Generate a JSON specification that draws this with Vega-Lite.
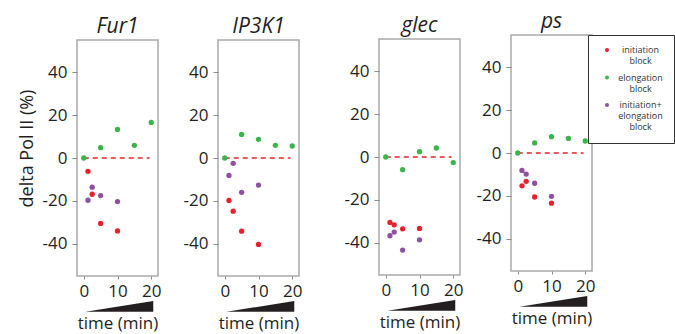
{
  "$schema": "https://vega.github.io/schema/vega-lite/v6.json",
  "padding": {"left": 17, "top": 9, "right": 0, "bottom": 0},
  "background": "white",
  "datasets": {
    "pts": [
      {"gene": "Fur1", "cond": "elongation block", "t": 0, "v": 0},
      {"gene": "Fur1", "cond": "elongation block", "t": 5, "v": 4.8},
      {"gene": "Fur1", "cond": "elongation block", "t": 10, "v": 13.3},
      {"gene": "Fur1", "cond": "elongation block", "t": 15, "v": 5.9},
      {"gene": "Fur1", "cond": "elongation block", "t": 20, "v": 16.6},
      {"gene": "Fur1", "cond": "initiation block", "t": 1.25, "v": -6.2},
      {"gene": "Fur1", "cond": "initiation block", "t": 2.5, "v": -16.9},
      {"gene": "Fur1", "cond": "initiation block", "t": 5, "v": -30.5},
      {"gene": "Fur1", "cond": "initiation block", "t": 10, "v": -34},
      {"gene": "Fur1", "cond": "initiation+ elongation block", "t": 1.25, "v": -19.7},
      {"gene": "Fur1", "cond": "initiation+ elongation block", "t": 2.5, "v": -13.6},
      {"gene": "Fur1", "cond": "initiation+ elongation block", "t": 5, "v": -17.5},
      {"gene": "Fur1", "cond": "initiation+ elongation block", "t": 10, "v": -20.3},
      {"gene": "IP3K1", "cond": "elongation block", "t": 0, "v": 0},
      {"gene": "IP3K1", "cond": "elongation block", "t": 5, "v": 11},
      {"gene": "IP3K1", "cond": "elongation block", "t": 10, "v": 8.7},
      {"gene": "IP3K1", "cond": "elongation block", "t": 15, "v": 5.9},
      {"gene": "IP3K1", "cond": "elongation block", "t": 20, "v": 5.6},
      {"gene": "IP3K1", "cond": "initiation block", "t": 1.25, "v": -19.8},
      {"gene": "IP3K1", "cond": "initiation block", "t": 2.5, "v": -24.8},
      {"gene": "IP3K1", "cond": "initiation block", "t": 5, "v": -34.1},
      {"gene": "IP3K1", "cond": "initiation block", "t": 10, "v": -40.3},
      {"gene": "IP3K1", "cond": "initiation+ elongation block", "t": 1.25, "v": -8.1},
      {"gene": "IP3K1", "cond": "initiation+ elongation block", "t": 2.5, "v": -2.5},
      {"gene": "IP3K1", "cond": "initiation+ elongation block", "t": 5, "v": -16},
      {"gene": "IP3K1", "cond": "initiation+ elongation block", "t": 10, "v": -12.6},
      {"gene": "glec", "cond": "elongation block", "t": 0, "v": 0},
      {"gene": "glec", "cond": "elongation block", "t": 5, "v": -5.9},
      {"gene": "glec", "cond": "elongation block", "t": 10, "v": 2.5},
      {"gene": "glec", "cond": "elongation block", "t": 15, "v": 4.2},
      {"gene": "glec", "cond": "elongation block", "t": 20, "v": -2.6},
      {"gene": "glec", "cond": "initiation block", "t": 1.25, "v": -30.5},
      {"gene": "glec", "cond": "initiation block", "t": 2.5, "v": -31.6},
      {"gene": "glec", "cond": "initiation block", "t": 5, "v": -33.5},
      {"gene": "glec", "cond": "initiation block", "t": 10, "v": -33.3},
      {"gene": "glec", "cond": "initiation+ elongation block", "t": 1.25, "v": -36.7},
      {"gene": "glec", "cond": "initiation+ elongation block", "t": 2.5, "v": -35},
      {"gene": "glec", "cond": "initiation+ elongation block", "t": 5, "v": -43.4},
      {"gene": "glec", "cond": "initiation+ elongation block", "t": 10, "v": -38.6},
      {"gene": "ps", "cond": "elongation block", "t": 0, "v": 0},
      {"gene": "ps", "cond": "elongation block", "t": 5, "v": 4.7},
      {"gene": "ps", "cond": "elongation block", "t": 10, "v": 7.6},
      {"gene": "ps", "cond": "elongation block", "t": 15, "v": 6.8},
      {"gene": "ps", "cond": "elongation block", "t": 20, "v": 5.6},
      {"gene": "ps", "cond": "initiation block", "t": 1.25, "v": -15.3},
      {"gene": "ps", "cond": "initiation block", "t": 2.5, "v": -13.2},
      {"gene": "ps", "cond": "initiation block", "t": 5, "v": -20.5},
      {"gene": "ps", "cond": "initiation block", "t": 10, "v": -23.4},
      {"gene": "ps", "cond": "initiation+ elongation block", "t": 1.25, "v": -8.1},
      {"gene": "ps", "cond": "initiation+ elongation block", "t": 2.5, "v": -9.8},
      {"gene": "ps", "cond": "initiation+ elongation block", "t": 5, "v": -14.1},
      {"gene": "ps", "cond": "initiation+ elongation block", "t": 10, "v": -20.2}
    ],
    "wedge": [
      {"t": 0.5, "w0": 0, "w": 0},
      {"t": 20.6, "w0": 0, "w": 1}
    ],
    "zero": [
      {"level": 0, "from": 0, "to": 19.5}
    ]
  },
  "config": {
    "font": "Open Sans",
    "view": {"stroke": "#a7a9ac", "strokeWidth": 1.5},
    "axis": {
      "grid": false, "domain": false, "tickColor": "#8a8a8a",
      "labelFont": "Open Sans", "labelFontSize": 17, "labelColor": "#231f20",
      "titleFont": "Open Sans", "titleFontWeight": "normal", "titleColor": "#231f20"
    },
    "title": {"font": "Open Sans", "fontSize": 21, "fontStyle": "italic", "fontWeight": "normal", "color": "#231f20"},
    "legend": {
      "orient": "none", "legendX": 511, "legendY": 26,
      "strokeColor": "#333333", "fillColor": "white", "padding": 10.5,
      "symbolOffset": 4, "symbolSize": 16, "symbolType": "circle",
      "labelFont": "Open Sans", "labelFontSize": 9, "labelColor": "#333333",
      "labelAlign": "center", "labelOffset": 29, "rowPadding": 6.5
    }
  },
  "spacing": 0,
  "hconcat": [
    {
      "spacing": 0,
      "vconcat": [
        {"width": 81, "height": 5.3, "view": {"stroke": null}, "data": {"values": []}, "mark": {"type": "point", "opacity": 0}, "encoding": {}},
        {
          "width": 81, "height": 236,
          "title": {"text": "Fur1", "offset": 3},
          "layer": [
            {
              "data": {"name": "zero"},
              "mark": {"type": "rule", "color": "#e8202a", "strokeDash": [5, 4], "strokeWidth": 1.6},
              "encoding": {
                "x": {"field": "from", "type": "quantitative", "scale": {"domain": [-0.7, 21]},
                      "axis": {"values": [0, 5, 10, 15, 20], "labelExpr": "datum.value % 10 === 0 ? datum.label : ''", "tickSize": 3, "labelPadding": 4, "title": "time (min)", "titleFontSize": 17, "titlePadding": 16}},
                "x2": {"field": "to"},
                "y": {"field": "level", "type": "quantitative", "scale": {"domain": [-55, 55]},
                      "axis": {"values": [-40, -20, 0, 20, 40], "labelExpr": "datum.value < 0 ? '-' + abs(datum.value) : '' + datum.value", "tickSize": 5, "labelPadding": 5, "minExtent": 36, "title": "delta Pol II (%)", "titleFontSize": 18, "titlePadding": 5, "titleY": 108}}
              }
            },
            {
              "data": {"name": "pts"},
              "transform": [{"filter": "datum.gene === 'Fur1'"}],
              "mark": {"type": "circle", "size": 28, "opacity": 1},
              "encoding": {
                "x": {"field": "t", "type": "quantitative"},
                "y": {"field": "v", "type": "quantitative", "scale": {"domain": [-55, 55]}, "axis": null},
                "color": {"field": "cond", "type": "nominal", "title": null,
                          "scale": {"domain": ["initiation block", "elongation block", "initiation+ elongation block"], "range": ["#e8202a", "#3ab54a", "#8e50a3"]},
                          "legend": {"labelExpr": "split(datum.label, ' ')"}}
              }
            },
            {
              "data": {"name": "wedge"},
              "mark": {"type": "area", "color": "#231f20", "clip": false},
              "encoding": {
                "x": {"field": "t", "type": "quantitative"},
                "y": {"field": "w", "type": "quantitative", "scale": {"domain": [3.34, 25.4], "zero": false}, "axis": null},
                "y2": {"field": "w0"}
              }
            }
          ],
          "resolve": {"scale": {"y": "independent"}}
        }
      ]
    },
    {
      "spacing": 0,
      "vconcat": [
        {"width": 81, "height": 5.3, "view": {"stroke": null}, "data": {"values": []}, "mark": {"type": "point", "opacity": 0}, "encoding": {}},
        {
          "width": 81, "height": 236,
          "title": {"text": "IP3K1", "offset": 3},
          "layer": [
            {
              "data": {"name": "zero"},
              "mark": {"type": "rule", "color": "#e8202a", "strokeDash": [5, 4], "strokeWidth": 1.6},
              "encoding": {
                "x": {"field": "from", "type": "quantitative", "scale": {"domain": [-0.7, 21]},
                      "axis": {"values": [0, 5, 10, 15, 20], "labelExpr": "datum.value % 10 === 0 ? datum.label : ''", "tickSize": 3, "labelPadding": 4, "title": "time (min)", "titleFontSize": 17, "titlePadding": 16}},
                "x2": {"field": "to"},
                "y": {"field": "level", "type": "quantitative", "scale": {"domain": [-55, 55]},
                      "axis": {"values": [-40, -20, 0, 20, 40], "labelExpr": "datum.value < 0 ? '-' + abs(datum.value) : '' + datum.value", "tickSize": 5, "labelPadding": 5, "title": null, "minExtent": 55}}
              }
            },
            {
              "data": {"name": "pts"},
              "transform": [{"filter": "datum.gene === 'IP3K1'"}],
              "mark": {"type": "circle", "size": 28, "opacity": 1},
              "encoding": {
                "x": {"field": "t", "type": "quantitative"},
                "y": {"field": "v", "type": "quantitative", "scale": {"domain": [-55, 55]}, "axis": null},
                "color": {"field": "cond", "type": "nominal", "title": null,
                          "scale": {"domain": ["initiation block", "elongation block", "initiation+ elongation block"], "range": ["#e8202a", "#3ab54a", "#8e50a3"]},
                          "legend": {"labelExpr": "split(datum.label, ' ')"}}
              }
            },
            {
              "data": {"name": "wedge"},
              "mark": {"type": "area", "color": "#231f20", "clip": false},
              "encoding": {
                "x": {"field": "t", "type": "quantitative"},
                "y": {"field": "w", "type": "quantitative", "scale": {"domain": [3.34, 25.4], "zero": false}, "axis": null},
                "y2": {"field": "w0"}
              }
            }
          ],
          "resolve": {"scale": {"y": "independent"}}
        }
      ]
    },
    {
      "spacing": 0,
      "vconcat": [
        {"width": 81, "height": 4.3, "view": {"stroke": null}, "data": {"values": []}, "mark": {"type": "point", "opacity": 0}, "encoding": {}},
        {
          "width": 81, "height": 236,
          "title": {"text": "glec", "offset": 3},
          "layer": [
            {
              "data": {"name": "zero"},
              "mark": {"type": "rule", "color": "#e8202a", "strokeDash": [5, 4], "strokeWidth": 1.6},
              "encoding": {
                "x": {"field": "from", "type": "quantitative", "scale": {"domain": [-0.7, 21]},
                      "axis": {"values": [0, 5, 10, 15, 20], "labelExpr": "datum.value % 10 === 0 ? datum.label : ''", "tickSize": 3, "labelPadding": 4, "title": "time (min)", "titleFontSize": 17, "titlePadding": 16}},
                "x2": {"field": "to"},
                "y": {"field": "level", "type": "quantitative", "scale": {"domain": [-55, 55]},
                      "axis": {"values": [-40, -20, 0, 20, 40], "labelExpr": "datum.value < 0 ? '-' + abs(datum.value) : '' + datum.value", "tickSize": 5, "labelPadding": 5, "title": null, "minExtent": 75}}
              }
            },
            {
              "data": {"name": "pts"},
              "transform": [{"filter": "datum.gene === 'glec'"}],
              "mark": {"type": "circle", "size": 28, "opacity": 1},
              "encoding": {
                "x": {"field": "t", "type": "quantitative"},
                "y": {"field": "v", "type": "quantitative", "scale": {"domain": [-55, 55]}, "axis": null},
                "color": {"field": "cond", "type": "nominal", "title": null,
                          "scale": {"domain": ["initiation block", "elongation block", "initiation+ elongation block"], "range": ["#e8202a", "#3ab54a", "#8e50a3"]},
                          "legend": {"labelExpr": "split(datum.label, ' ')"}}
              }
            },
            {
              "data": {"name": "wedge"},
              "mark": {"type": "area", "color": "#231f20", "clip": false},
              "encoding": {
                "x": {"field": "t", "type": "quantitative"},
                "y": {"field": "w", "type": "quantitative", "scale": {"domain": [3.34, 25.4], "zero": false}, "axis": null},
                "y2": {"field": "w0"}
              }
            }
          ],
          "resolve": {"scale": {"y": "independent"}}
        }
      ]
    },
    {
      "spacing": 0,
      "vconcat": [
        {"width": 81, "height": 1, "view": {"stroke": null}, "data": {"values": []}, "mark": {"type": "point", "opacity": 0}, "encoding": {}},
        {
          "width": 81, "height": 236,
          "title": {"text": "ps", "offset": 3},
          "layer": [
            {
              "data": {"name": "zero"},
              "mark": {"type": "rule", "color": "#e8202a", "strokeDash": [5, 4], "strokeWidth": 1.6},
              "encoding": {
                "x": {"field": "from", "type": "quantitative", "scale": {"domain": [-0.7, 21]},
                      "axis": {"values": [0, 5, 10, 15, 20], "labelExpr": "datum.value % 10 === 0 ? datum.label : ''", "tickSize": 3, "labelPadding": 4, "title": "time (min)", "titleFontSize": 17, "titlePadding": 16}},
                "x2": {"field": "to"},
                "y": {"field": "level", "type": "quantitative", "scale": {"domain": [-55, 55]},
                      "axis": {"values": [-40, -20, 0, 20, 40], "labelExpr": "datum.value < 0 ? '-' + abs(datum.value) : '' + datum.value", "tickSize": 5, "labelPadding": 5, "title": null, "minExtent": 46}}
              }
            },
            {
              "data": {"name": "pts"},
              "transform": [{"filter": "datum.gene === 'ps'"}],
              "mark": {"type": "circle", "size": 28, "opacity": 1},
              "encoding": {
                "x": {"field": "t", "type": "quantitative"},
                "y": {"field": "v", "type": "quantitative", "scale": {"domain": [-55, 55]}, "axis": null},
                "color": {"field": "cond", "type": "nominal", "title": null,
                          "scale": {"domain": ["initiation block", "elongation block", "initiation+ elongation block"], "range": ["#e8202a", "#3ab54a", "#8e50a3"]},
                          "legend": {"labelExpr": "split(datum.label, ' ')"}}
              }
            },
            {
              "data": {"name": "wedge"},
              "mark": {"type": "area", "color": "#231f20", "clip": false},
              "encoding": {
                "x": {"field": "t", "type": "quantitative"},
                "y": {"field": "w", "type": "quantitative", "scale": {"domain": [3.34, 25.4], "zero": false}, "axis": null},
                "y2": {"field": "w0"}
              }
            }
          ],
          "resolve": {"scale": {"y": "independent"}}
        }
      ]
    }
  ]
}
